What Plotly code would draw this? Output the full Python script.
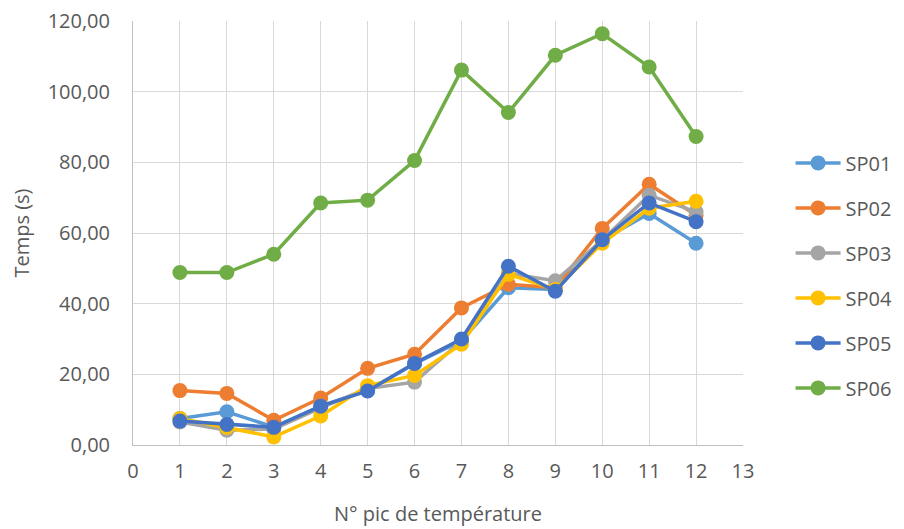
import plotly.graph_objects as go

x_vals = [1, 2, 3, 4, 5, 6, 7, 8, 9, 10, 11, 12]
series_names = ["SP01", "SP02", "SP03", "SP04", "SP05", "SP06"]
sp01 = [7.5, 9.4, 5.1, 11.0, 15.5, 23.0, 29.5, 44.5, 44.0, 58.0, 65.5, 57.1]
sp02 = [15.4, 14.6, 7.0, 13.3, 21.7, 25.7, 38.8, 45.5, 44.5, 61.3, 73.8, 65.0]
sp03 = [6.5, 4.2, 4.5, 10.5, 16.0, 17.8, 29.5, 48.5, 46.5, 58.0, 70.7, 66.0]
sp04 = [7.5, 5.0, 2.3, 8.2, 16.8, 19.7, 28.5, 48.3, 44.0, 57.1, 67.0, 69.0]
sp05 = [6.8, 5.8, 5.0, 11.0, 15.3, 23.1, 30.0, 50.6, 43.5, 58.1, 68.5, 63.2]
sp06 = [48.8, 48.8, 54.0, 68.5, 69.3, 80.5, 106.1, 94.1, 110.3, 116.4, 107.0, 87.3]
all_series = [sp01, sp02, sp03, sp04, sp05, sp06]
colors = ["#5B9BD5", "#ED7D31", "#A5A5A5", "#FFC000", "#4472C4", "#70AD47"]

fig = go.Figure()
for name, ys, c in zip(series_names, all_series, colors):
    fig.add_trace(go.Scatter(
        x=x_vals, y=ys, name=name, mode="lines+markers",
        line=dict(color=c, width=3.5),
        marker=dict(color=c, size=15),
        legendgroup=name,
    ))

font_family = "Open Sans, Noto Sans, sans-serif"
fig.update_layout(
    width=904, height=529,
    margin=dict(l=125, r=169, t=13, b=92, autoexpand=False),
    paper_bgcolor="white", plot_bgcolor="white",
    separators=",.",
    font=dict(family=font_family, color="#595959", size=20),
    legend=dict(x=1.078, y=0.40, yanchor="middle", xanchor="left",
                tracegroupgap=16, font=dict(size=20, color="#595959"),
                itemwidth=45),
    showlegend=True,
)
fig.update_xaxes(
    range=[0, 13], dtick=1, tick0=0, showgrid=True, gridcolor="#D9D9D9", gridwidth=1,
    showline=True, linecolor="#BFBFBF", linewidth=1, zeroline=False, automargin=False,
    ticks="", tickfont=dict(size=20, color="#595959"), ticklabelstandoff=8,
    ticklabeloverflow="allow",
    title=dict(text="N° pic de température", font=dict(size=20, color="#595959"), standoff=23),
)
fig.update_yaxes(
    range=[0, 120], dtick=20, tickformat=".2f", showgrid=True, gridcolor="#D9D9D9", gridwidth=1,
    showline=True, linecolor="#BFBFBF", linewidth=1, zeroline=False, automargin=False,
    ticks="", tickfont=dict(size=20, color="#595959"), ticklabelstandoff=18,
    ticklabeloverflow="allow",
    title=dict(text="Temps (s)", font=dict(size=20, color="#595959"), standoff=20),
)
fig.write_html("out.html")
